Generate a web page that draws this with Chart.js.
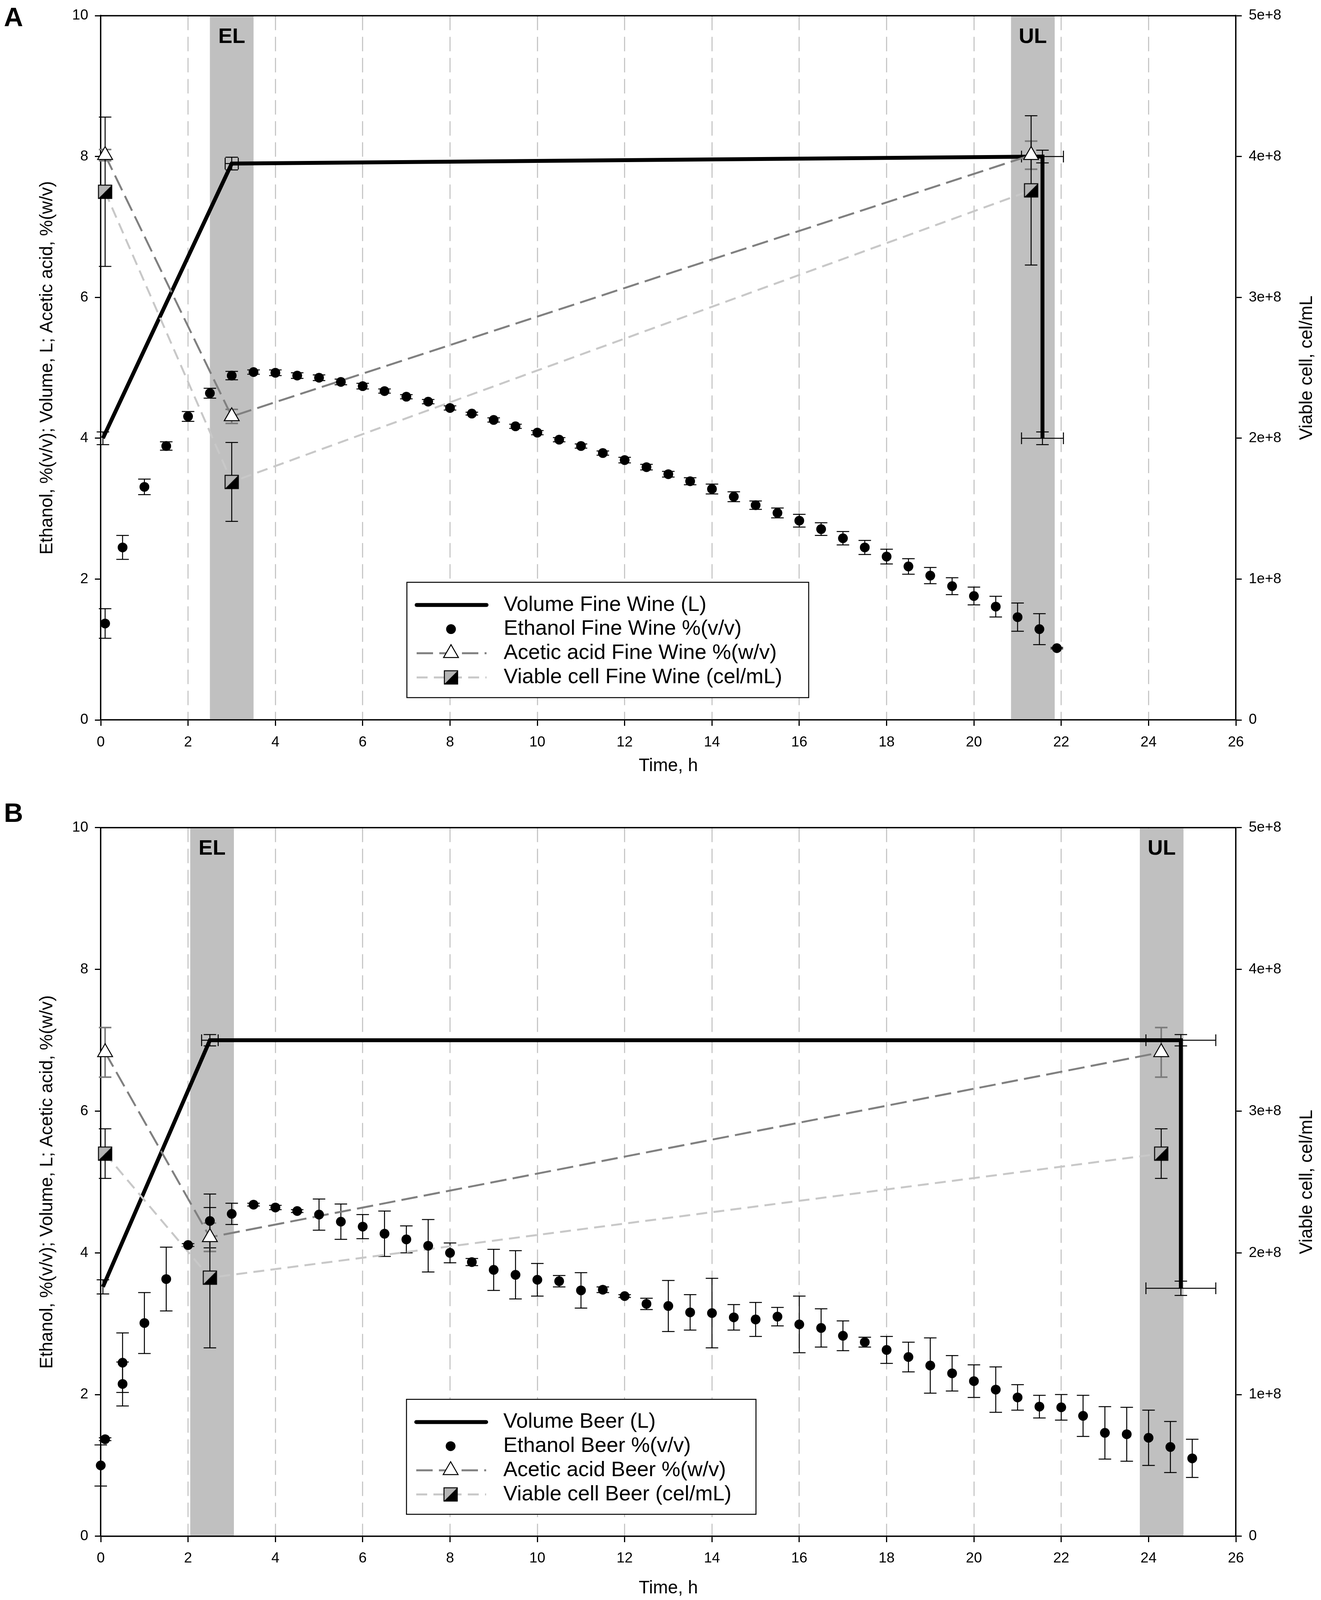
<!DOCTYPE html>
<html>
<head>
<meta charset="utf-8">
<title>Acetification of fine wine and beer</title>
<script src="https://cdn.jsdelivr.net/npm/chart.js@4.4.1/dist/chart.umd.min.js"></script>
<style>
  html, body { margin: 0; padding: 0; background: #fff; overflow: hidden; }
  canvas { display: block; }
</style>
</head>
<body>
<canvas id="chartA"></canvas>
<canvas id="chartB"></canvas>
<script>
// ---------- Panel A : fine wine ----------
const wineVolTime = [0.05, 3.0, 21.57, 21.57];
const wineVol     = [4.0, 7.9, 8.0, 4.0];
const wineVolErrY = [0.09, 0.09, 0.09, 0.09];
const wineVolErrX = [0, 0.15, 0.48, 0.48];

const wineEthTime = [0.1, 0.5, 1, 1.5, 2, 2.5, 3, 3.5, 4, 4.5, 5, 5.5, 6, 6.5, 7, 7.5, 8, 8.5, 9, 9.5,
                     10, 10.5, 11, 11.5, 12, 12.5, 13, 13.5, 14, 14.5, 15, 15.5, 16, 16.5, 17, 17.5,
                     18, 18.5, 19, 19.5, 20, 20.5, 21, 21.5, 21.9];
const wineEth     = [1.37, 2.45, 3.31, 3.89, 4.31, 4.64, 4.89, 4.94, 4.93, 4.89, 4.86, 4.80, 4.74, 4.67, 4.59, 4.52, 4.43, 4.35, 4.26, 4.17,
                     4.08, 3.98, 3.89, 3.79, 3.69, 3.59, 3.49, 3.39, 3.28, 3.17, 3.05, 2.94, 2.83, 2.71, 2.58, 2.45,
                     2.32, 2.18, 2.05, 1.90, 1.76, 1.61, 1.46, 1.29, 1.02];
const wineEthErr  = [0.21, 0.17, 0.11, 0.06, 0.07, 0.07, 0.06, 0.03, 0.04, 0.04, 0.04, 0.04, 0.04, 0.03, 0.03, 0.03, 0.03, 0.02, 0.03, 0.03,
                     0.03, 0.03, 0.03, 0.03, 0.04, 0.04, 0.04, 0.05, 0.07, 0.07, 0.06, 0.07, 0.09, 0.09, 0.095, 0.1,
                     0.105, 0.11, 0.115, 0.12, 0.126, 0.147, 0.2, 0.22, 0.01];

const wineAcTime = [0.1, 3.0, 21.31];
const wineAc     = [8.02, 4.31, 8.02];
const wineAcErr  = [0.08, 0.1, 0.2];

const wineCellTime = [0.1, 3.0, 21.31];
const wineCell     = [3.75e8, 1.69e8, 3.76e8];
const wineCellErr  = [0.53e8, 0.28e8, 0.53e8];

const wineBandStart = [2.5, 20.85];
const wineBandEnd   = [3.5, 21.85];

// ---------- Panel B : beer ----------
const beerVolTime = [0.05, 2.5, 24.74, 24.74];
const beerVol     = [3.52, 7.0, 7.0, 3.5];
const beerVolErrY = [0.1, 0.08, 0.08, 0.1];
const beerVolErrX = [0, 0.19, 0.8, 0.8];

const beerEthTime = [0, 0.1, 0.5, 0.5, 1, 1.5, 2, 2.5, 3, 3.5, 4, 4.5, 5, 5.5, 6, 6.5, 7, 7.5, 8, 8.5, 9, 9.5,
                     10, 10.5, 11, 11.5, 12, 12.5, 13, 13.5, 14, 14.5, 15, 15.5, 16, 16.5, 17, 17.5,
                     18, 18.5, 19, 19.5, 20, 20.5, 21, 21.5, 22, 22.5, 23, 23.5, 24, 24.5, 25];
const beerEth     = [1.00, 1.37, 2.45, 2.15, 3.01, 3.63, 4.11, 4.45, 4.55, 4.68, 4.64, 4.59, 4.54, 4.44, 4.37, 4.27, 4.19, 4.10, 4.00, 3.87, 3.76, 3.69,
                     3.62, 3.60, 3.47, 3.48, 3.39, 3.28, 3.25, 3.16, 3.15, 3.09, 3.06, 3.10, 2.99, 2.94, 2.83, 2.74,
                     2.63, 2.53, 2.41, 2.30, 2.19, 2.07, 1.96, 1.83, 1.82, 1.70, 1.46, 1.44, 1.39, 1.26, 1.10];
const beerEthErr  = [0.29, 0.02, 0.42, 0.31, 0.43, 0.45, 0.02, 0.38, 0.15, 0.02, 0.03, 0.02, 0.22, 0.25, 0.17, 0.32, 0.19, 0.37, 0.14, 0.05, 0.29, 0.34,
                     0.23, 0.08, 0.25, 0.04, 0.02, 0.08, 0.36, 0.25, 0.49, 0.18, 0.24, 0.13, 0.40, 0.27, 0.21, 0.07,
                     0.19, 0.21, 0.39, 0.25, 0.23, 0.32, 0.18, 0.16, 0.18, 0.29, 0.37, 0.38, 0.39, 0.36, 0.27];

const beerAcTime = [0.1, 2.5, 24.29];
const beerAc     = [6.83, 4.22, 6.83];
const beerAcErr  = [0.35, 0.2, 0.35];

const beerCellTime = [0.1, 2.5, 24.29];
const beerCell     = [2.70e8, 1.825e8, 2.70e8];
const beerCellErr  = [0.175e8, 0.495e8, 0.175e8];

const beerBandStart = [2.05, 23.8];
const beerBandEnd   = [3.05, 24.8];

const bandLabels = ['EL', 'UL'];
const xTicks = [0, 2, 4, 6, 8, 10, 12, 14, 16, 18, 20, 22, 24, 26];

// the page is laid out for 3383 x 4509; squeeze vertically if the window is shorter
const PAGE_W = 3383, PAGE_H = 4509;
const SY = Math.min(1, (window.innerHeight || PAGE_H) / PAGE_H);
const sy = v => v * SY;

const FONT = "'Liberation Sans', Arial, sans-serif";
Chart.defaults.font.family = FONT;
Chart.defaults.font.size = 37;
Chart.defaults.color = '#000';

const pts = (xs, ys) => xs.map((x, i) => ({ x: x, y: ys[i] }));

// half filled square marker (top-left grey, bottom-right black)
function makeHalfSquare() {
  const c = document.createElement('canvas');
  c.width = 40; c.height = 40;
  const g = c.getContext('2d');
  const a = 3, b = 37;
  g.fillStyle = '#b4b4b4';
  g.beginPath(); g.moveTo(a, a); g.lineTo(b, a); g.lineTo(a, b); g.closePath(); g.fill();
  g.fillStyle = '#000';
  g.beginPath(); g.moveTo(b, a); g.lineTo(b, b); g.lineTo(a, b); g.closePath(); g.fill();
  g.strokeStyle = '#000'; g.lineWidth = 2.5;
  g.strokeRect(a, a, b - a, b - a);
  return c;
}
const halfSquare = makeHalfSquare();

function drawTriangle(ctx, x, y, r) {
  ctx.beginPath();
  ctx.moveTo(x, y - r);
  ctx.lineTo(x + r * 0.866, y + r / 2);
  ctx.lineTo(x - r * 0.866, y + r / 2);
  ctx.closePath();
  ctx.fillStyle = '#fff'; ctx.fill();
  ctx.strokeStyle = '#000'; ctx.lineWidth = 2.5; ctx.stroke();
}

const panelPlugin = {
  id: 'panel',
  beforeDatasetsDraw(chart, args, o) {
    const { ctx, chartArea: ca, scales } = chart;
    ctx.save();
    // shaded loading / unloading bands
    o.bandStart.forEach((s, i) => {
      const x1 = scales.x.getPixelForValue(s), x2 = scales.x.getPixelForValue(o.bandEnd[i]);
      ctx.fillStyle = '#c0c0c0';
      ctx.fillRect(x1, ca.top + 2, x2 - x1, ca.bottom - ca.top - 4);
      ctx.fillStyle = '#000';
      ctx.font = 'bold 54px ' + FONT;
      ctx.textAlign = 'center'; ctx.textBaseline = 'middle';
      ctx.fillText(bandLabels[i], (x1 + x2) / 2, ca.top + sy(60));
    });
    // error bars
    chart.data.datasets.forEach((ds, di) => {
      const meta = chart.getDatasetMeta(di);
      const ys = scales[meta.yAxisID], xs = scales.x;
      ctx.strokeStyle = ds.errColor;
      ctx.lineWidth = ds.errWidth;
      ctx.setLineDash([]);
      ds.data.forEach((p, i) => {
        const px = xs.getPixelForValue(p.x), py = ys.getPixelForValue(p.y);
        const ey = ds.errY ? ds.errY[i] : 0;
        const ex = ds.errX ? ds.errX[i] : 0;
        ctx.beginPath();
        if (ey > 0) {
          const t = ys.getPixelForValue(p.y + ey), b = ys.getPixelForValue(p.y - ey);
          ctx.moveTo(px, t); ctx.lineTo(px, b);
          ctx.moveTo(px - 16, t); ctx.lineTo(px + 16, t);
          ctx.moveTo(px - 16, b); ctx.lineTo(px + 16, b);
        }
        if (ex > 0) {
          const l = xs.getPixelForValue(p.x - ex), r = xs.getPixelForValue(p.x + ex);
          ctx.moveTo(l, py); ctx.lineTo(r, py);
          ctx.moveTo(l, py - 15); ctx.lineTo(l, py + 15);
          ctx.moveTo(r, py - 15); ctx.lineTo(r, py + 15);
        }
        ctx.stroke();
      });
    });
    ctx.restore();
  },
  afterDraw(chart, args, o) {
    const { ctx, chartArea: ca } = chart;
    ctx.save();
    // top frame line
    ctx.strokeStyle = '#000'; ctx.lineWidth = 3.5;
    ctx.beginPath(); ctx.moveTo(ca.left, ca.top); ctx.lineTo(ca.right, ca.top); ctx.stroke();

    // axis titles
    ctx.fillStyle = '#000';
    ctx.font = '46px ' + FONT;
    ctx.textAlign = 'center'; ctx.textBaseline = 'middle';
    ctx.fillText('Time, h', (ca.left + ca.right) / 2, ca.bottom + sy(o.xTitleGap));
    const midY = (ca.top + ca.bottom) / 2;
    ctx.save(); ctx.translate(121, midY); ctx.rotate(-Math.PI / 2);
    ctx.fillText('Ethanol, %(v/v); Volume, L; Acetic acid, %(w/v)', 0, 0); ctx.restore();
    ctx.save(); ctx.translate(3347, midY); ctx.rotate(-Math.PI / 2);
    ctx.fillText('Viable cell, cel/mL', 0, 0); ctx.restore();

    // panel letter
    ctx.font = 'bold 68px ' + FONT;
    ctx.textAlign = 'left'; ctx.textBaseline = 'alphabetic';
    ctx.fillText(o.letter, 10, sy(o.letterY));

    // legend
    const L = o.legend;
    const top = ca.bottom - sy(L.above), bottom = ca.bottom - sy(L.below);
    ctx.fillStyle = '#fff';
    ctx.fillRect(L.left, top, L.right - L.left, bottom - top);
    ctx.strokeStyle = '#000'; ctx.lineWidth = 2.5;
    ctx.strokeRect(L.left, top, L.right - L.left, bottom - top);
    const rows = [64, 132, 200, 268];
    const x0 = L.left + 25, x1 = L.left + 204, cx = L.left + 113;
    chart.data.datasets.slice().sort((a, b) => a.legendRow - b.legendRow).forEach((ds, i) => {
      const cy = top + sy(rows[i]);
      if (ds.showLine) {
        ctx.strokeStyle = ds.borderColor; ctx.lineWidth = ds.borderWidth;
        ctx.setLineDash(ds.borderDash || []);
        ctx.lineCap = ds.legendRow === 0 ? 'round' : 'butt';
        ctx.beginPath(); ctx.moveTo(x0, cy); ctx.lineTo(x1, cy); ctx.stroke();
        ctx.setLineDash([]);
      }
      if (ds.pointStyle === 'circle' && ds.pointRadius > 0) {
        ctx.fillStyle = '#000';
        ctx.beginPath(); ctx.arc(cx, cy, ds.pointRadius, 0, Math.PI * 2); ctx.fill();
      } else if (ds.pointStyle === 'triangle') {
        drawTriangle(ctx, cx, cy, ds.pointRadius);
      } else if (ds.pointStyle === halfSquare) {
        ctx.drawImage(halfSquare, cx - 20, cy - 20);
      }
      ctx.fillStyle = '#000';
      ctx.font = '54px ' + FONT;
      ctx.textAlign = 'left'; ctx.textBaseline = 'middle';
      ctx.fillText(ds.label, L.left + 248, cy);
    });
    ctx.restore();
  }
};

function buildPanel(id, d) {
  const canvas = document.getElementById(id);
  const H = Math.round(sy(d.pageBottom)) - Math.round(sy(d.pageTop));
  canvas.width = PAGE_W;
  canvas.height = H;
  const plotTop = sy(d.plotTop - d.pageTop);
  const plotBottom = sy(d.plotBottom - d.pageTop);
  return new Chart(canvas, {
    type: 'scatter',
    data: {
      datasets: [
        { label: 'Ethanol ' + d.name + ' %(v/v)', legendRow: 1, order: 1, clip: false,
          data: pts(d.ethT, d.eth), errY: d.ethErr, errColor: '#000', errWidth: 2.5,
          showLine: false, pointStyle: 'circle', pointRadius: 12.5,
          pointBackgroundColor: '#000', pointBorderColor: '#000', pointBorderWidth: 0 },
        { label: 'Acetic acid ' + d.name + ' %(w/v)', legendRow: 2, order: 2, clip: false,
          data: pts(d.acT, d.ac), errY: d.acErr, errColor: '#7a7a7a', errWidth: 4,
          showLine: true, borderColor: '#808080', borderWidth: 5, borderDash: [42, 16],
          pointStyle: 'triangle', pointRadius: 22,
          pointBackgroundColor: '#fff', pointBorderColor: '#000', pointBorderWidth: 2.5 },
        { label: 'Viable cell ' + d.name + ' (cel/mL)', legendRow: 3, order: 3, clip: false, yAxisID: 'y2',
          data: pts(d.cellT, d.cell), errY: d.cellErr, errColor: '#000', errWidth: 2.5,
          showLine: true, borderColor: '#c8c8c8', borderWidth: 5, borderDash: [28, 16],
          pointStyle: halfSquare, pointRadius: 18 },
        { label: 'Volume ' + d.name + ' (L)', legendRow: 0, order: 4, clip: false,
          data: pts(d.volT, d.vol), errY: d.volErrY, errX: d.volErrX, errColor: '#000', errWidth: 2.5,
          showLine: true, borderColor: '#000', borderWidth: 10, pointRadius: 0, borderJoinStyle: 'miter' }
      ]
    },
    options: {
      responsive: false,
      devicePixelRatio: 1,
      animation: false,
      layout: { padding: { top: plotTop, left: 0, right: 0, bottom: 0 } },
      plugins: {
        legend: { display: false },
        tooltip: { enabled: false },
        panel: { bandStart: d.bandStart, bandEnd: d.bandEnd, letter: d.letter, letterY: d.letterY,
                 xTitleGap: d.xTitleGap, legend: d.legend }
      },
      scales: {
        x: {
          type: 'linear', min: 0, max: 26,
          afterFit: s => { s.height = H - plotBottom; },
          afterBuildTicks: s => { s.ticks = xTicks.map(v => ({ value: v })); },
          ticks: { padding: 20, maxRotation: 0, autoSkip: false },
          grid: {
            color: c => (c.tick && (c.tick.value === 0 || c.tick.value === 26)) ? 'rgba(0,0,0,0)' : '#c8c8c8',
            lineWidth: 3, tickColor: '#000', tickWidth: 3, tickLength: 15, tickBorderDash: []
          },
          border: { color: '#000', width: 3.5, dash: [37, 17] }
        },
        y: {
          type: 'linear', position: 'left', min: 0, max: 10,
          afterFit: s => { s.width = 258; },
          ticks: { stepSize: 2, padding: 17 },
          grid: { drawOnChartArea: false, tickColor: '#000', tickWidth: 3, tickLength: 15 },
          border: { color: '#000', width: 3.5 }
        },
        y2: {
          type: 'linear', position: 'right', min: 0, max: 5e8,
          afterFit: s => { s.width = PAGE_W - 3165; },
          ticks: { stepSize: 1e8, padding: 18, callback: v => v === 0 ? '0' : (v / 1e8) + 'e+8' },
          grid: { drawOnChartArea: false, tickColor: '#000', tickWidth: 3, tickLength: 15 },
          border: { color: '#000', width: 3.5 }
        }
      }
    },
    plugins: [panelPlugin]
  });
}

buildPanel('chartA', {
  name: 'Fine Wine', letter: 'A', letterY: 74,
  pageTop: 0, pageBottom: 2254, plotTop: 26, plotBottom: 2029, xTitleGap: 130,
  volT: wineVolTime, vol: wineVol, volErrY: wineVolErrY, volErrX: wineVolErrX,
  ethT: wineEthTime, eth: wineEth, ethErr: wineEthErr,
  acT: wineAcTime, ac: wineAc, acErr: wineAcErr,
  cellT: wineCellTime, cell: wineCell, cellErr: wineCellErr,
  bandStart: wineBandStart, bandEnd: wineBandEnd,
  legend: { left: 1042, right: 2071, above: 388, below: 63 }
});

buildPanel('chartB', {
  name: 'Beer', letter: 'B', letterY: 62,
  pageTop: 2254, pageBottom: 4509, plotTop: 2332, plotBottom: 4329, xTitleGap: 147,
  volT: beerVolTime, vol: beerVol, volErrY: beerVolErrY, volErrX: beerVolErrX,
  ethT: beerEthTime, eth: beerEth, ethErr: beerEthErr,
  acT: beerAcTime, ac: beerAc, acErr: beerAcErr,
  cellT: beerCellTime, cell: beerCell, cellErr: beerCellErr,
  bandStart: beerBandStart, bandEnd: beerBandEnd,
  legend: { left: 1041, right: 1936, above: 386, below: 62 }
});
</script>
</body>
</html>
